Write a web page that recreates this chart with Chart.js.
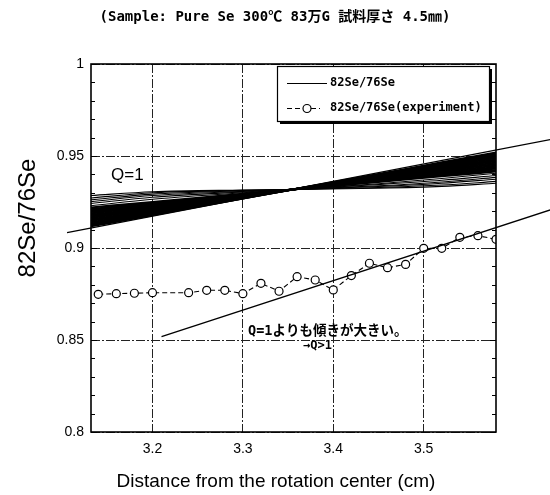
<!DOCTYPE html>
<html>
<head>
<meta charset="utf-8">
<script src="https://cdn.jsdelivr.net/npm/chart.js@4.4.0/dist/chart.umd.min.js"></script>
<style>
  html, body { margin: 0; padding: 0; background: #fff; }
  #wrap { width: 550px; height: 495px; }
</style>
</head>
<body>
<div id="wrap"><canvas id="c" width="550" height="495"></canvas></div>
<script>
const titleText = '(Sample: Pure Se 300℃ 83万G 試料厚さ 4.5㎜)';
const xAxisTitle = 'Distance from the rotation center (cm)';
const yAxisTitle = '82Se/76Se';
const legendLabels = ['82Se/76Se', '82Se/76Se(experiment)'];
const noteQ1 = 'Q=1';
const noteSlope = 'Q=1よりも傾きが大きい。';
const noteQgt1 = '→Q>1';
const xTicks = [3.2, 3.3, 3.4, 3.5];
const yTicks = [0.8, 0.85, 0.9, 0.95, 1];

// measured ratio vs distance
const expX = [3.14, 3.16, 3.18, 3.20, 3.24, 3.26, 3.28, 3.30, 3.32, 3.34, 3.36,
              3.38, 3.40, 3.42, 3.44, 3.46, 3.48, 3.50, 3.52, 3.54, 3.56, 3.58];
const expY = [0.8748, 0.8752, 0.8754, 0.8757, 0.8757, 0.8770, 0.8770, 0.8752, 0.8808, 0.8765, 0.8844,
              0.8826, 0.8772, 0.8850, 0.8917, 0.8893, 0.8911, 0.8998, 0.8998, 0.9058, 0.9067, 0.9047];

// Q=1 straight line
const q1X = [3.1055, 3.64];
const q1Y = [0.9083, 0.9589];

// straight line along the measured points
const fitX = [3.21, 3.64];
const fitY = [0.8518, 0.9207];

// family of calculated curves
const curveX = [3.132, 3.2, 3.3, 3.355, 3.45, 3.52, 3.58];
const curveY = [
  [0.9118, 0.9179, 0.9269, 0.9318, 0.9402, 0.9465, 0.9518],
  [0.9125, 0.9184, 0.9270, 0.9318, 0.9399, 0.9459, 0.9511],
  [0.9132, 0.9189, 0.9272, 0.9318, 0.9396, 0.9454, 0.9504],
  [0.9140, 0.9194, 0.9274, 0.9318, 0.9393, 0.9448, 0.9496],
  [0.9148, 0.9200, 0.9276, 0.9318, 0.9390, 0.9443, 0.9488],
  [0.9156, 0.9205, 0.9278, 0.9318, 0.9386, 0.9437, 0.9480],
  [0.9164, 0.9211, 0.9280, 0.9318, 0.9383, 0.9431, 0.9472],
  [0.9172, 0.9217, 0.9282, 0.9318, 0.9380, 0.9425, 0.9464],
  [0.9180, 0.9222, 0.9284, 0.9318, 0.9376, 0.9419, 0.9456],
  [0.9188, 0.9228, 0.9286, 0.9318, 0.9373, 0.9413, 0.9448],
  [0.9196, 0.9233, 0.9288, 0.9318, 0.9369, 0.9407, 0.9440],
  [0.9204, 0.9239, 0.9290, 0.9318, 0.9366, 0.9402, 0.9432],
  [0.9212, 0.9244, 0.9292, 0.9318, 0.9363, 0.9396, 0.9424],
  [0.9220, 0.9250, 0.9294, 0.9318, 0.9359, 0.9390, 0.9416],
  [0.9230, 0.9265, 0.9300, 0.9318, 0.9349, 0.9378, 0.9406],
  [0.9242, 0.9276, 0.9304, 0.9318, 0.9345, 0.9368, 0.9394],
  [0.9252, 0.9285, 0.9308, 0.9318, 0.9338, 0.9359, 0.9384],
  [0.9262, 0.9293, 0.9311, 0.9318, 0.9334, 0.9352, 0.9374],
  [0.9272, 0.9300, 0.9313, 0.9318, 0.9329, 0.9342, 0.9362],
  [0.9285, 0.9306, 0.9315, 0.9318, 0.9325, 0.9335, 0.9352]
];

const pts = (xs, ys) => xs.map((x, i) => ({ x, y: ys[i] }));

const curveSets = curveY.map((ys, i) => ({
  label: 'curve' + i,
  data: pts(curveX, ys),
  borderColor: '#000',
  borderWidth: i < 14 ? 2.2 : 1.1,
  pointRadius: 0,
  cubicInterpolationMode: 'monotone',
  showLine: true
}));

const monoCJK = "'DejaVu Sans Mono', 'Noto Sans CJK JP', monospace";
const sans = "'Liberation Sans', Arial, sans-serif";

const decor = {
  id: 'decor',
  beforeDraw(chart) {
    const ctx = chart.ctx;
    ctx.save();
    ctx.fillStyle = '#fff';
    ctx.fillRect(0, 0, chart.width, chart.height);
    ctx.restore();
  },
  afterDraw(chart) {
    const ctx = chart.ctx;
    const a = chart.chartArea;
    const ys = chart.scales.y;
    ctx.save();
    // axes box
    ctx.strokeStyle = '#000';
    ctx.lineWidth = 1.6;
    ctx.strokeRect(a.left, a.top, a.right - a.left, a.bottom - a.top);

    // inward y ticks, minor every 0.01
    ctx.lineWidth = 1;
    ctx.beginPath();
    for (let k = 80; k <= 100; k++) {
      const py = Math.round(ys.getPixelForValue(k / 100)) + 0.5;
      const len = (k % 5 === 0) ? 6 : 4;
      ctx.moveTo(a.left, py); ctx.lineTo(a.left + len, py);
      ctx.moveTo(a.right, py); ctx.lineTo(a.right - len, py);
    }
    ctx.stroke();

    // legend
    const lx = 277, ly = 66, lw = 212, lh = 55;
    ctx.fillStyle = '#000';
    ctx.fillRect(lx + 3, ly + 3, lw, lh);
    ctx.fillStyle = '#fff';
    ctx.fillRect(lx, ly, lw, lh);
    ctx.strokeStyle = '#000';
    ctx.lineWidth = 1.2;
    ctx.strokeRect(lx + 0.5, ly + 0.5, lw, lh);

    ctx.beginPath();
    ctx.moveTo(287, 83.5); ctx.lineTo(327, 83.5);
    ctx.stroke();
    ctx.setLineDash([5, 3]);
    ctx.beginPath();
    ctx.moveTo(287, 108.5); ctx.lineTo(320, 108.5);
    ctx.stroke();
    ctx.setLineDash([]);
    ctx.beginPath();
    ctx.arc(307, 108.5, 4, 0, Math.PI * 2);
    ctx.fillStyle = '#fff'; ctx.fill(); ctx.stroke();

    ctx.fillStyle = '#000';
    ctx.font = 'bold 12px ' + monoCJK;
    ctx.textAlign = 'left';
    ctx.textBaseline = 'middle';
    ctx.fillText(legendLabels[0], 330, 83);
    ctx.fillText(legendLabels[1], 330, 108);

    // title
    ctx.font = 'bold 14px ' + monoCJK;
    ctx.textAlign = 'center';
    ctx.fillText(titleText, 275, 17);

    // axis titles
    ctx.font = '19px ' + sans;
    ctx.fillText(xAxisTitle, 276, 482);
    ctx.save();
    ctx.translate(28, 218);
    ctx.rotate(-Math.PI / 2);
    ctx.font = '24px ' + sans;
    ctx.fillText(yAxisTitle, 0, 0);
    ctx.restore();

    // notes
    ctx.textAlign = 'left';
    ctx.font = '17px ' + sans;
    ctx.fillText(noteQ1, 111, 175);
    ctx.font = 'bold 13.5px ' + monoCJK;
    ctx.fillText(noteSlope, 248, 331);
    ctx.font = 'bold 12px ' + monoCJK;
    ctx.fillText(noteQgt1, 303, 346);
    ctx.restore();
  }
};

const gridStyle = { color: '#222', lineWidth: 1, drawTicks: false };

new Chart(document.getElementById('c'), {
  type: 'scatter',
  data: {
    datasets: [
      ...curveSets,
      {
        label: 'Q=1',
        data: pts(q1X, q1Y),
        borderColor: '#000',
        borderWidth: 1.3,
        pointRadius: 0,
        showLine: true,
        clip: false
      },
      {
        label: 'fit',
        data: pts(fitX, fitY),
        borderColor: '#000',
        borderWidth: 1.3,
        pointRadius: 0,
        showLine: true,
        clip: false
      },
      {
        label: 'experiment',
        data: pts(expX, expY),
        borderColor: '#000',
        borderWidth: 1.1,
        borderDash: [5, 3],
        showLine: true,
        pointRadius: 4,
        pointBorderWidth: 1.2,
        pointBorderColor: '#000',
        pointBackgroundColor: '#fff'
      }
    ]
  },
  options: {
    responsive: false,
    animation: false,
    devicePixelRatio: 1,
    layout: { padding: { top: 64, right: 54, left: 0, bottom: 0 } },
    plugins: { legend: { display: false }, tooltip: { enabled: false } },
    scales: {
      x: {
        type: 'linear',
        min: 3.132,
        max: 3.58,
        afterBuildTicks: s => { s.ticks = xTicks.map(v => ({ value: v })); },
        afterFit: s => { s.height = 63; },
        grid: gridStyle,
        border: { display: false, dash: [9, 2, 2, 2] },
        ticks: {
          padding: 9,
          color: '#000',
          font: { family: sans, size: 14 },
          callback: v => String(+v.toFixed(2))
        }
      },
      y: {
        type: 'linear',
        min: 0.8,
        max: 1,
        afterBuildTicks: s => { s.ticks = yTicks.map(v => ({ value: v })); },
        afterFit: s => { s.width = 91; },
        grid: gridStyle,
        border: { display: false, dash: [9, 2, 2, 2] },
        ticks: {
          padding: 7,
          color: '#000',
          font: { family: sans, size: 14 },
          callback: v => String(+v.toFixed(2))
        }
      }
    }
  },
  plugins: [decor]
});
</script>
</body>
</html>
